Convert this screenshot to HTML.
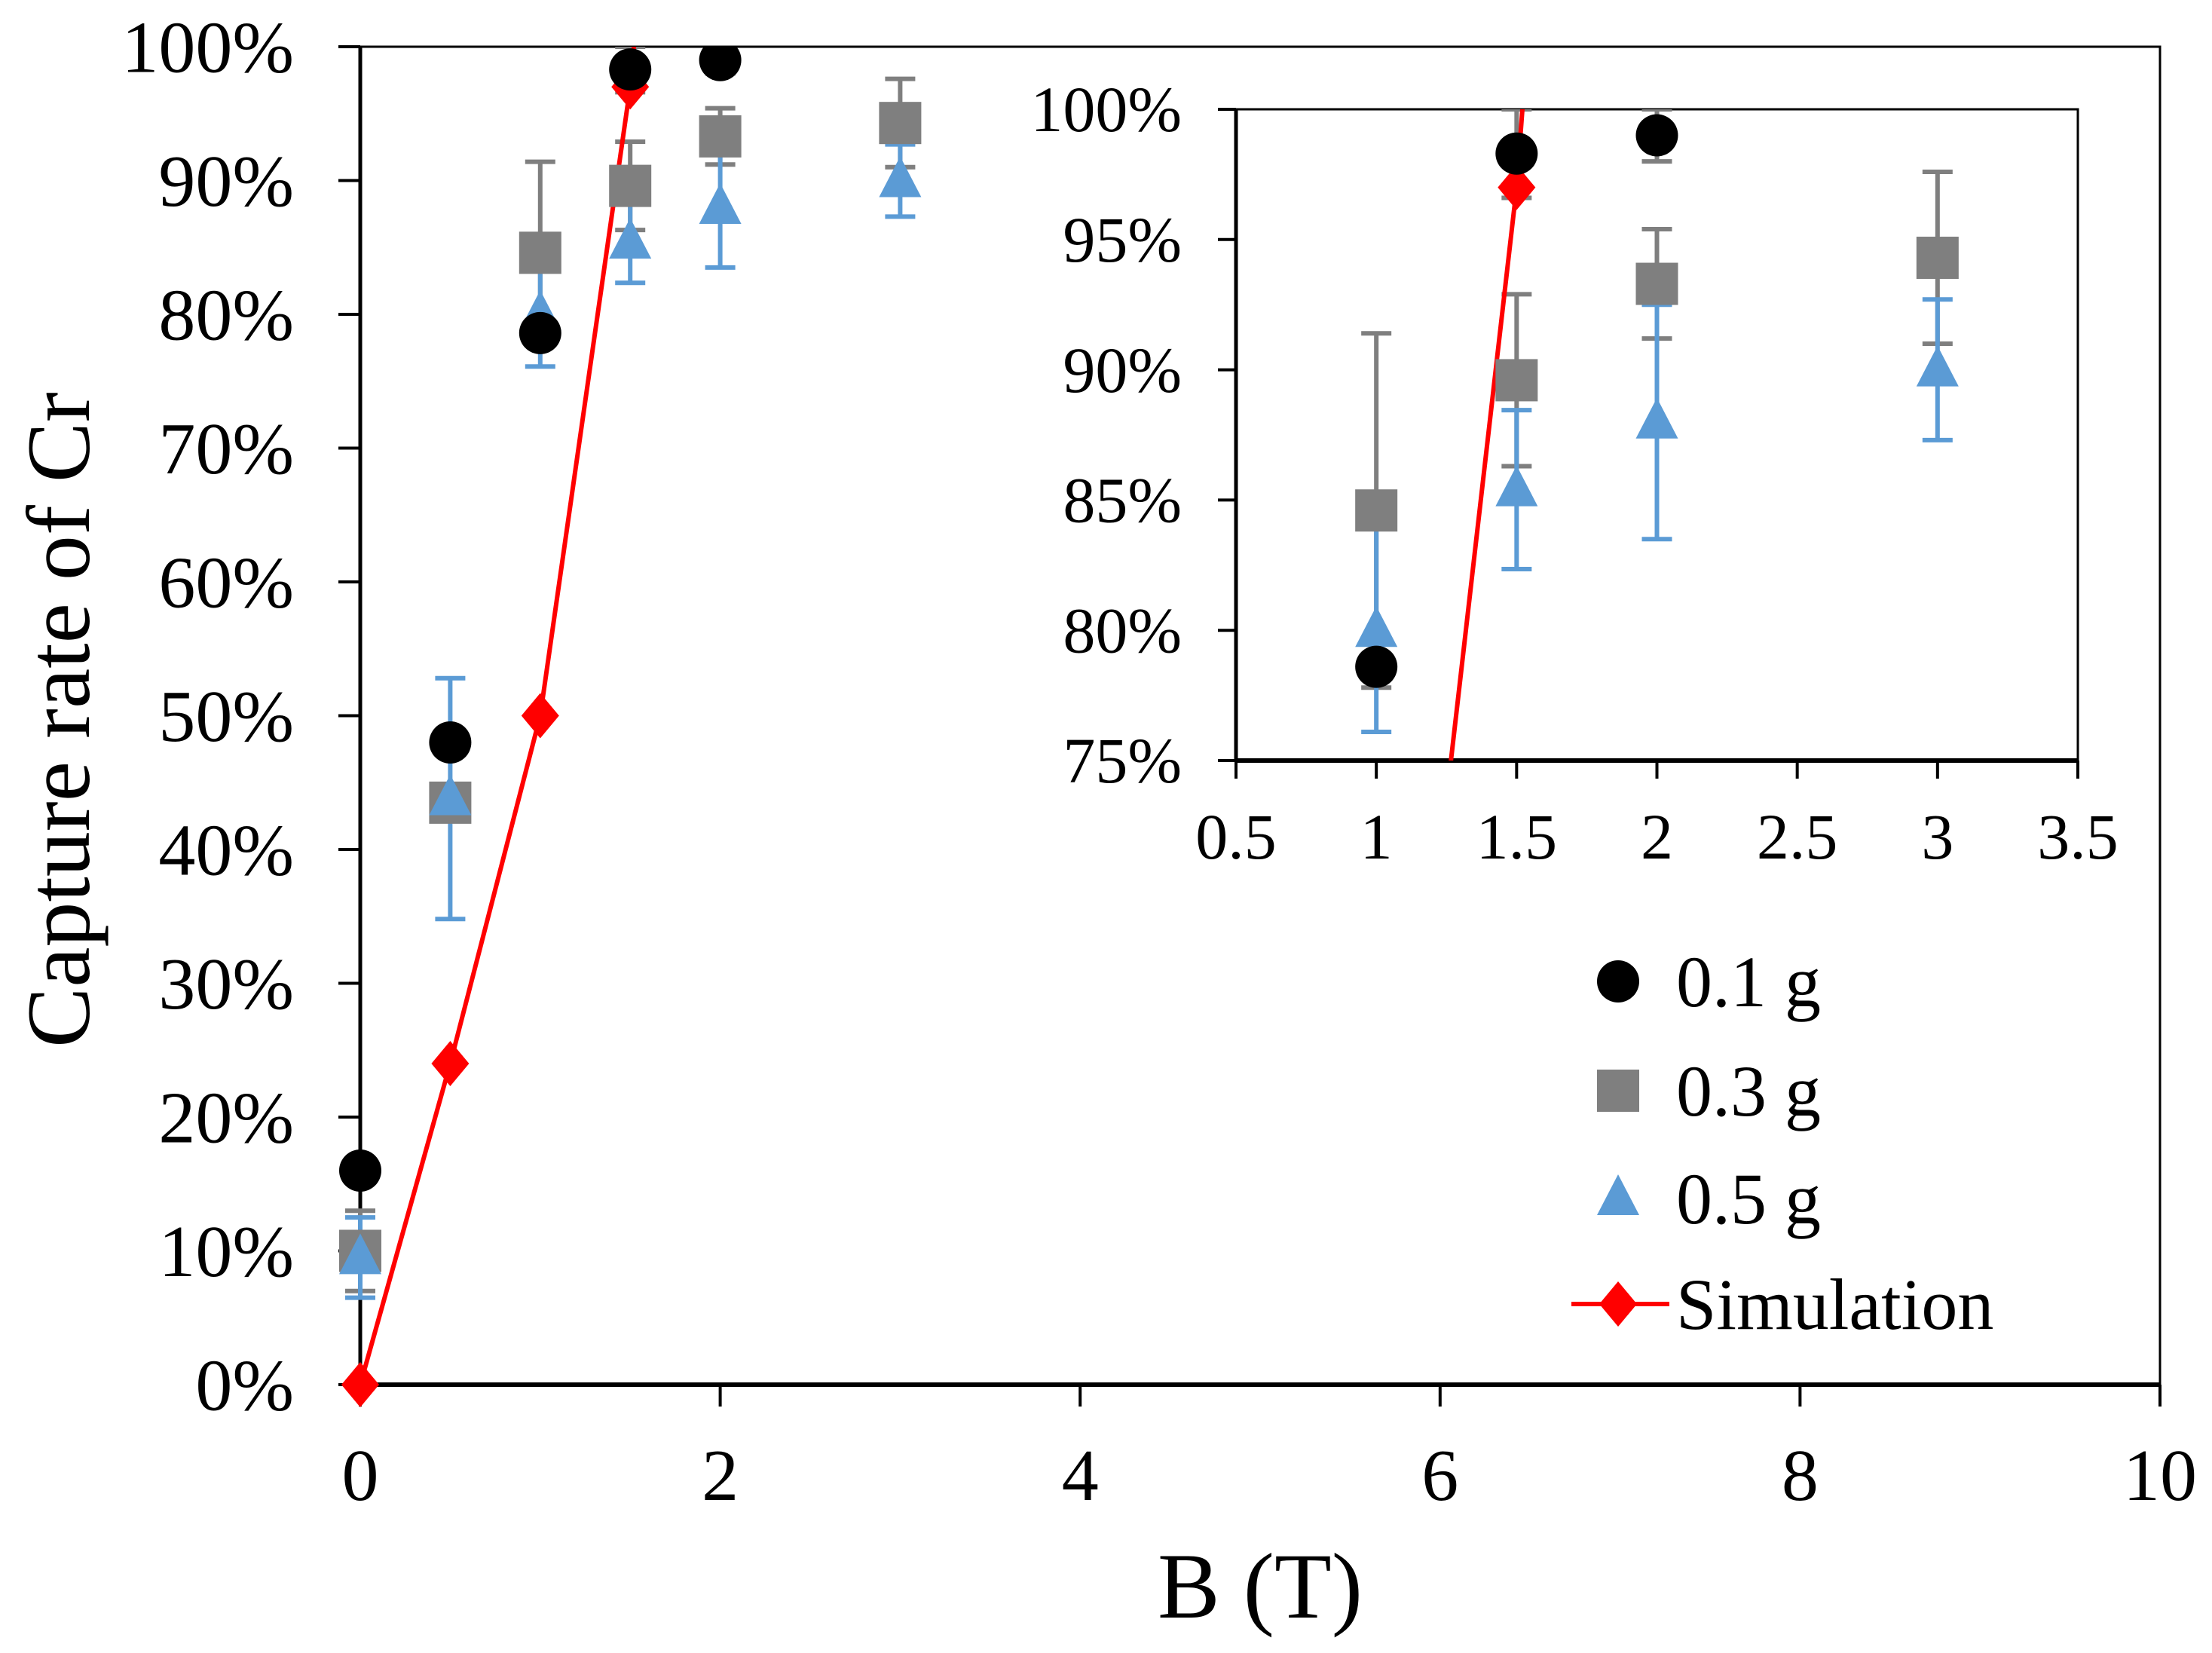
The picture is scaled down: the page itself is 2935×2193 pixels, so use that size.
<!DOCTYPE html>
<html><head><meta charset="utf-8"><style>
html,body{margin:0;padding:0;background:#fff;overflow:hidden;width:2935px;height:2193px}
svg{display:block;font-family:"Liberation Serif",serif}
</style></head><body>
<svg id="chart" width="2935" height="2193" viewBox="0 0 2935 2193" xmlns="http://www.w3.org/2000/svg">
<defs>
<clipPath id="mainClip"><rect x="400" y="62" width="2466" height="1860"/></clipPath>
<clipPath id="insetClip"><rect x="1600" y="145" width="1200" height="864"/></clipPath>
</defs>
<g id="main"></g>
<g id="inset"></g>
<g id="legend"></g>
<text x="0" y="0" transform="translate(118,955) rotate(-90)" text-anchor="middle" font-size="120">Capture rate of Cr</text>
<text x="1672" y="2146" text-anchor="middle" font-size="124">B (T)</text>
</svg>
<script>
const bVals01 = [0, 0.5, 1, 1.5, 2];
const cap01 = [16, 48, 78.6, 98.3, 99];
const err01 = [0, 0, 0, 1.7, 1];
const bVals03 = [0, 0.5, 1, 1.5, 2, 3];
const cap03 = [10, 43.5, 84.6, 89.6, 93.3, 94.3];
const err03 = [3, 0, 6.8, 3.3, 2.1, 3.3];
const bVals05 = [0, 0.5, 1, 1.5, 2, 3];
const cap05 = [9.5, 43.8, 80, 85.4, 88, 90];
const err05 = [3, 9, 3.9, 3.05, 4.5, 2.7];
const bSim = [0, 0.5, 1, 1.5, 2];
const capSim = [0, 24, 50, 97, 170];
const mainXTicks = [0, 2, 4, 6, 8, 10];
const mainYTicks = [0, 10, 20, 30, 40, 50, 60, 70, 80, 90, 100];
const insetXTicks = [0.5, 1, 1.5, 2, 2.5, 3, 3.5];
const insetYTicks = [75, 80, 85, 90, 95, 100];
const legendLabels = ["0.1 g", "0.3 g", "0.5 g", "Simulation"];

const NS = "http://www.w3.org/2000/svg";
function mk(parent, tag, attrs) {
  const e = document.createElementNS(NS, tag);
  for (const k in attrs) e.setAttribute(k, attrs[k]);
  parent.appendChild(e);
  return e;
}
const GRAY = "#7f7f7f", BLUE = "#5b9bd5", RED = "#ff0000";

function drawPanel(g, cfg) {
  const sx = v => cfg.x0 + (v - cfg.xmin) / (cfg.xmax - cfg.xmin) * (cfg.x1 - cfg.x0);
  const sy = v => cfg.y0 - (v - cfg.ymin) / (cfg.ymax - cfg.ymin) * (cfg.y0 - cfg.y1);
  const frame = mk(g, "rect", {x: cfg.x0, y: cfg.y1, width: cfg.x1 - cfg.x0, height: cfg.y0 - cfg.y1, fill: "none", stroke: "#000", "stroke-width": 3});
  
  
  const ya = mk(g, "line", {x1: cfg.x0, y1: cfg.y1, x2: cfg.x0, y2: cfg.y0, stroke: "#000", "stroke-width": 5});
  
  
  const xa = mk(g, "line", {x1: cfg.x0, y1: cfg.y0, x2: cfg.x1, y2: cfg.y0, stroke: "#000", "stroke-width": 6});
  
  
  cfg.xt.forEach(v => {
    const t = mk(g, "line", {x1: sx(v), y1: cfg.y0, x2: sx(v), y2: cfg.y0 + cfg.tick, stroke: "#000", "stroke-width": 4});
    
    
    const l = mk(g, "text", {x: sx(v), y: cfg.y0 + cfg.xlabOff, "text-anchor": "middle", "font-size": cfg.fs});
    l.textContent = String(v);
    
    
  });
  cfg.yt.forEach(v => {
    const t = mk(g, "line", {x1: cfg.x0 - cfg.tick, y1: sy(v), x2: cfg.x0, y2: sy(v), stroke: "#000", "stroke-width": 4});
    
    
    const l = mk(g, "text", {x: cfg.ylabX, y: sy(v) + cfg.fs * 0.34, "text-anchor": "end", "font-size": cfg.fs});
    l.textContent = v + "%";
    
    
  });
  const d = mk(g, "g", {"clip-path": "url(#" + cfg.clip + ")"});
  
  
  function errBars(xs, ys, es, color, name) {
    xs.forEach((x, i) => {
      if (!es[i]) return;
      const cx = sx(x), lo = sy(ys[i] - es[i]), hi = sy(ys[i] + es[i]);
      const l = mk(d, "path", {d: `M${cx},${lo}V${hi}M${cx - 20},${lo}H${cx + 20}M${cx - 20},${hi}H${cx + 20}`, stroke: color, "stroke-width": 6, fill: "none"});
      
      
    });
  }
  errBars(bVals03, cap03, err03, GRAY, 'error-bar-0.3g');
  errBars(bVals05, cap05, err05, BLUE, 'error-bar-0.5g');
  errBars(bVals01, cap01, err01, GRAY, 'error-bar-0.1g');
  const lineG = mk(d, "g", {"clip-path": "url(#" + cfg.clip + "Line)"});
  
  
  const pts = bSim.map((x, i) => sx(x) + "," + sy(capSim[i])).join(" ");
  const pl = mk(lineG, "polyline", {points: pts, fill: "none", stroke: RED, "stroke-width": 6});
  
  
  bSim.forEach((x, i) => {
    if (x > 1.6) return;
    const cx = sx(x), cy = sy(capSim[i]);
    const m = mk(d, "polygon", {points: `${cx},${cy - 30} ${cx + 25},${cy} ${cx},${cy + 30} ${cx - 25},${cy}`, fill: RED});
    
    
  });
  bVals03.forEach((x, i) => {
    const cx = sx(x), cy = sy(cap03[i]);
    const m = mk(d, "rect", {x: cx - 28, y: cy - 28, width: 56, height: 56, fill: GRAY});
    
    
  });
  bVals05.forEach((x, i) => {
    const cx = sx(x), cy = sy(cap05[i]);
    const m = mk(d, "polygon", {points: `${cx},${cy - 32} ${cx + 28},${cy + 22} ${cx - 28},${cy + 22}`, fill: BLUE});
    
    
  });
  bVals01.forEach((x, i) => {
    const m = mk(d, "ellipse", {cx: sx(x), cy: sy(cap01[i]), rx: 28, ry: 28, fill: "#000"});
    
    
  });
}

// extra clip paths for simulation line (clipped at plot top/bottom)
const defs = document.querySelector("defs");
mk(mk(defs, "clipPath", {id: "mainClipLine"}), "rect", {x: 400, y: 62, width: 2466, height: 1860});
mk(mk(defs, "clipPath", {id: "insetClipLine"}), "rect", {x: 1640, y: 145, width: 1117, height: 864});

drawPanel(document.getElementById("main"), {p: "main", x0: 478, x1: 2866, y0: 1837, y1: 62, xmin: 0, xmax: 10, ymin: 0, ymax: 100,
  xt: mainXTicks, yt: mainYTicks, tick: 29, fs: 98, xlabOff: 153, ylabX: 390, clip: "mainClip"});
const bg = mk(document.getElementById("inset"), "rect", {x: 1360, y: 100, width: 1500, height: 1080, fill: "#fff"});


drawPanel(document.getElementById("inset"), {p: "inset", x0: 1640, x1: 2757, y0: 1009, y1: 145, xmin: 0.5, xmax: 3.5, ymin: 75, ymax: 100,
  xt: insetXTicks, yt: insetYTicks, tick: 24, fs: 86, xlabOff: 130, ylabX: 1568, clip: "insetClip"});

const lg = document.getElementById("legend");
const ly = [1302, 1447, 1590, 1730];
const lx = 2147;
let e;
e = mk(lg, "circle", {cx: lx, cy: ly[0], r: 28, fill: "#000"});


e = mk(lg, "rect", {x: lx - 28, y: ly[1] - 28, width: 56, height: 56, fill: GRAY});


e = mk(lg, "polygon", {points: `${lx},${ly[2] - 32} ${lx + 28},${ly[2] + 22} ${lx - 28},${ly[2] + 22}`, fill: BLUE});


e = mk(lg, "line", {x1: 2085, y1: ly[3], x2: 2215, y2: ly[3], stroke: RED, "stroke-width": 6});


e = mk(lg, "polygon", {points: `${lx},${ly[3] - 30} ${lx + 25},${ly[3]} ${lx},${ly[3] + 30} ${lx - 25},${ly[3]}`, fill: RED});


legendLabels.forEach((t, i) => {
  const tx = mk(lg, "text", {x: 2224, y: ly[i] + 33, "font-size": 96});
  tx.textContent = t;
  
  
});
</script>
</body></html>
